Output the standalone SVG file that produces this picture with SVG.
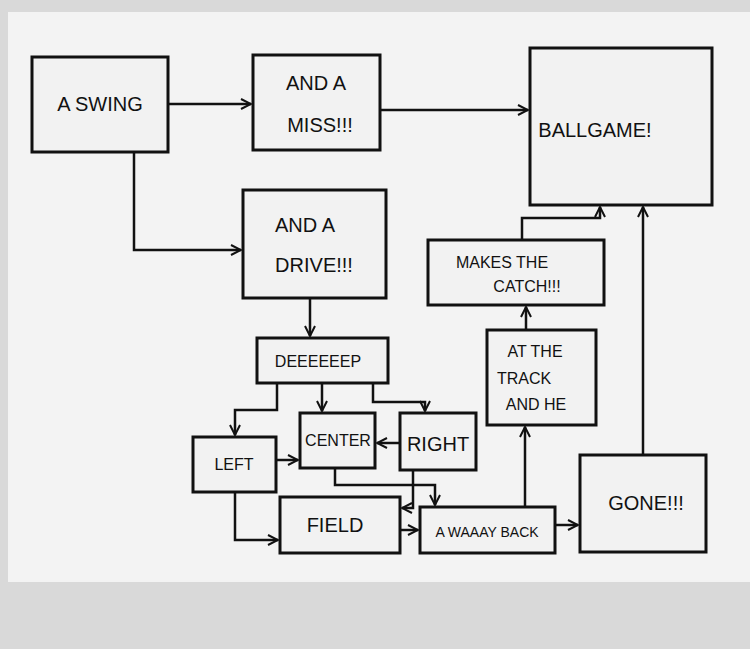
<svg xmlns="http://www.w3.org/2000/svg" width="750" height="649" viewBox="0 0 750 649">
<defs>
<marker id="a" viewBox="0 0 12 12" refX="11" refY="6" markerWidth="12" markerHeight="12" markerUnits="userSpaceOnUse" orient="auto">
<path d="M1,1 L11,6 L1,11" fill="none" stroke="#111" stroke-width="2"/>
</marker>
<style>
.b{fill:#f2f2f2;stroke:#111;stroke-width:3}
.t{font-family:"Liberation Sans",sans-serif;font-size:20px;fill:#111;text-anchor:middle}
.s{font-size:16px}
.c path{fill:none;stroke:#111;stroke-width:2.5;marker-end:url(#a)}
</style>
</defs>
<rect width="750" height="649" fill="#d9d9d9"/>
<rect x="8" y="12" width="742" height="570" fill="#f3f3f3"/>
<g id="swing"><rect class="b" x="32" y="57" width="136" height="95"/><text class="t" x="100" y="111">A SWING</text></g>
<g id="miss"><rect class="b" x="253" y="55" width="127" height="95"/><text class="t" x="316" y="90">AND A</text><text class="t" x="320" y="132">MISS!!!</text></g>
<g id="ballgame"><rect class="b" x="530" y="48" width="182" height="157"/><text class="t" x="595" y="137">BALLGAME!</text></g>
<g id="drive"><rect class="b" x="243" y="190" width="143" height="108"/><text class="t" x="305" y="232">AND A</text><text class="t" x="314" y="272">DRIVE!!!</text></g>
<g id="deep"><rect class="b" x="257" y="338" width="131" height="45"/><text class="t s" x="318" y="367">DEEEEEEP</text></g>
<g id="left"><rect class="b" x="193" y="437" width="83" height="55"/><text class="t s" x="234" y="470">LEFT</text></g>
<g id="center"><rect class="b" x="300" y="413" width="75" height="55"/><text class="t s" x="338" y="446">CENTER</text></g>
<g id="right"><rect class="b" x="400" y="413" width="76" height="57"/><text class="t" x="438" y="451">RIGHT</text></g>
<g id="field"><rect class="b" x="280" y="497" width="120" height="56"/><text class="t" x="335" y="532">FIELD</text></g>
<g id="waaay"><rect class="b" x="420" y="507" width="135" height="46"/><text class="t" x="487" y="537" style="font-size:14px">A WAAAY BACK</text></g>
<g id="gone"><rect class="b" x="580" y="455" width="126" height="97"/><text class="t" x="646" y="510">GONE!!!</text></g>
<g id="track"><rect class="b" x="487" y="330" width="109" height="95"/><text class="t s" x="535" y="357">AT THE</text><text class="t s" x="524" y="384">TRACK</text><text class="t s" x="536" y="410">AND HE</text></g>
<g id="catch"><rect class="b" x="428" y="240" width="176" height="65"/><text class="t s" x="502" y="268">MAKES THE</text><text class="t s" x="527" y="292">CATCH!!!</text></g>
<g id="connectors" class="c">
<path d="M168,104 H251"/>
<path d="M380,110 H528"/>
<path d="M134,152 V250 H241"/>
<path d="M310,298 V336"/>
<path d="M277,383 V410 H235 V435"/>
<path d="M322,383 V411"/>
<path d="M373,383 V402 H425 V411"/>
<path d="M276,460 H298"/>
<path d="M400,443 H377"/>
<path d="M235,492 V540 H278"/>
<path d="M335,468 V485 H435 V505"/>
<path d="M413,470 V508 H402"/>
<path d="M400,530 H418"/>
<path d="M555,525 H578"/>
<path d="M525,507 V427"/>
<path d="M526,330 V307"/>
<path d="M522,240 V218 H600 V207"/>
<path d="M643,455 V207"/>
</g>
</svg>
